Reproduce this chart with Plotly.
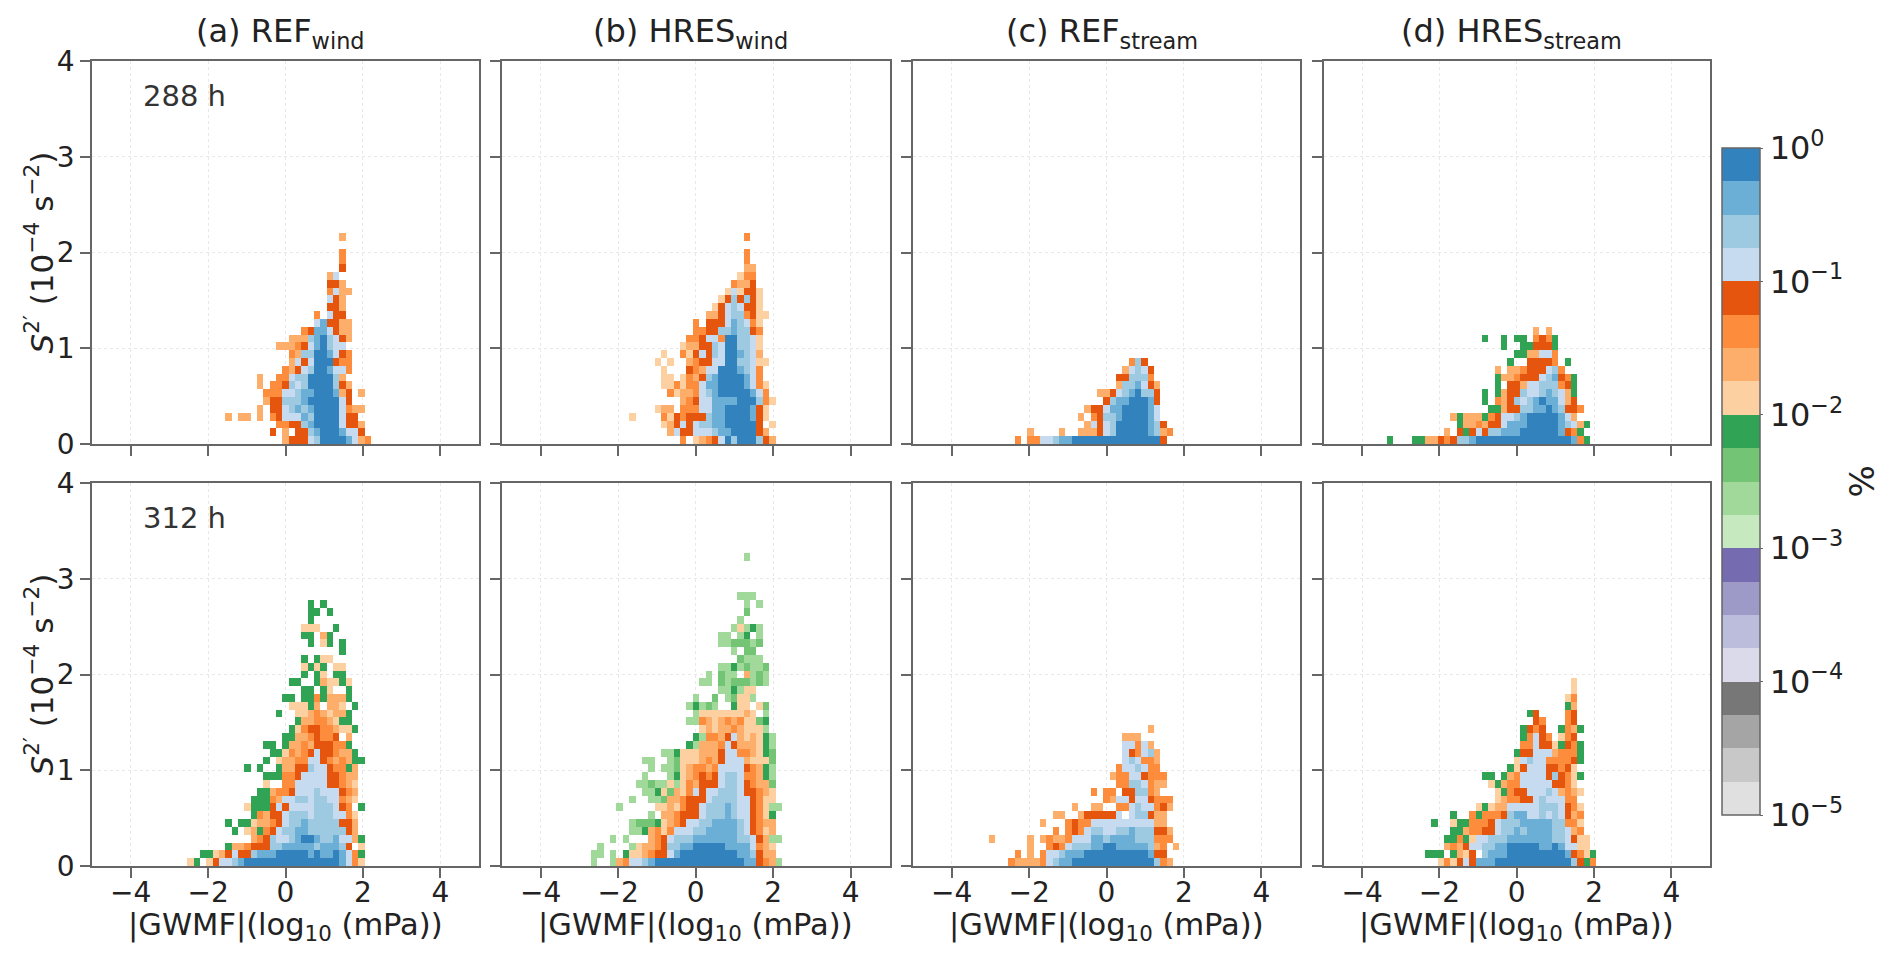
import plotly.graph_objects as go

W, H = 1892, 963

# Each panel: rows from S2'=0 upward, as (first column index, class letters). "." = empty bin.
# Column 0 is the bin centred on log10|GWMF| = 0. Letters a..t are the colour classes, from 10^0 downward.
REF_WIND_288 = [
    (0, "geeedcaaaabdgf"), (-2, "e.g.eecbaaabdde"), (-1, "ffeecbaaaadeeg"),
    (-9, "g.gg.g.fedddbcaaaadee"), (-4, "g.eedcbcbaaaadfgg"), (-3, "geecccbaaaaade"),
    (-3, "fffddcbbaaabge.g"), (-4, "g.ffecdcaaaaceg"), (-4, "g..ffdccaaaacg"),
    (0, "fgedcaabddf"), (1, "gdedaaaeff"), (1, "fgccaabdef"), (-1, "gggfedbacdd"),
    (1, "gggcbacdeg"), (3, "febbdegg"), (5, "dbeegg"), (5, "f.dee"), (7, "eeg"),
    (7, "deg"), (7, "fdgg"), (7, "eeg"), (7, "gd"), (9, "e"), (9, "f"), (9, "f"),
    (0, ""), (9, "g"),
]
HRES_WIND_288 = [
    (-2, "f.hgfedacaaaceg"), (-4, "gdeedddcbbaaaaeg"), (-5, "hgededccbbaaaaae.h"),
    (-10, "h....fhefeeecbbaaaabeh"), (-6, "hgg.fffddbbaaaabeh"), (-2, "gfeddbbbbaaacfh"),
    (-4, "fhggfdcbaaaaabdf"), (-5, "hhfhffdbbaaaabdfh"), (-5, "hh.hfgecbaaaabdf"),
    (-5, "h...efgddaaabcdf"), (-6, "h.h..gfeeddaaccdhh"), (-5, "h..fhedecdaabcdg"),
    (-2, "hggeecdaaccdh"), (-1, "ffeddfaaccdh"), (0, "ffeeccbccef"), (0, "f.eeedbcdfh"),
    (2, "ggedccfehh"), (3, "hedcdeeh"), (4, "hececeh"), (5, "hdheeh"), (6, "fgge"),
    (7, "hff"), (8, "gg"), (8, "f"), (8, "f"), (0, ""), (8, "f"),
]
REF_STREAM_288 = [
    (-14, "f.ffddcbb" "aaaaa" "aaaaa" "aaaa" "e"),
    (-12, "g....g..gggedc" "aaaaa" "bcgf"),
    (-3, "gdedcaaaaabce"), (-4, "g.feccbaaaabd"), (-3, "geedbbaaaabd"),
    (0, "ecbbaaabe"), (-1, "ggedcbacce"), (2, "gccbdeg"), (2, "eecccf"),
    (3, "gdcde"), (4, "fce"),
]
HRES_STREAM_288 = [
    (-20, "i...iiggefeccb" "aaaaa" "aaaaa" "aaaaa" "bfi"),
    (-11, "g.eiedeccbbb" "aaaaaa" "befi"),
    (-9, "iggfgeedbbb" "aaaaa" "bcdgi"),
    (-10, "gigggifeddcb" "aaaaa" "bdg"),
    (-4, "iigeeccbbabceef"), (-5, "i.fgecdcbabbdge"), (-5, "i.igeecddcbcdgi"),
    (-3, "i.eegddcccfei"), (-3, "iggfeeedcbefi"), (-3, "g.ggfeeedcf"),
    (-1, "i..eeeef.i"), (0, "iiggddf"), (-2, "i..iieeei"), (-5, "i..i.ii.fefi"),
    (3, "g.g"),
]
REF_WIND_312 = [
    (-15, "hi.heddcb" "aaaaa" "aaaaa" "aaaaa" "bdfh"),
    (-13, "iihgedeecbbb" "aaaaa" "bab" "b" "abdfi"),
    (-9, "iggfeeecc" "bbbbb" "cbbb" "ce.h"),
    (-5, "gfecddcbaabccbddgi"), (-8, "i.hgifedccbbcccccceg"),
    (-9, "i.iihggfedccb" "ccccc" "eeg"),
    (-5, "ifgeedcccdcccddfh"), (-6, "hiiiededdddcccdef.i"), (-5, "iiifgddccdccddfgh"),
    (-4, "iigffedddcdddefg"), (-3, "h..ffddddd" "eefgh"), (-3, "iiiffe" "dddd" "eefgg"),
    (-6, "i.i..iggeecddeffig"), (-3, "i.hggffddefgfgii"), (-2, "iihfgfedeefggi"),
    (-3, "ii.iggfgeeeffi"), (0, "iiggfeffe.g"), (1, "ihfeeffghhi"), (2, "iggffghii"),
    (-1, "i..hhgfghggi"), (1, "hhhig.ggh.i"), (0, "ii.iifigggi"), (3, "ii.ih..i"),
    (1, "ii..ighhih"), (3, "i.ih.ii"), (3, "hihi.hh"), (3, "i.ihh"), (9, "i"),
    (4, "i.hi.i"), (3, "ii.gi"), (3, "hhh..i"), (4, "i"), (4, "ii.i"), (4, "i.i"),
]
HRES_WIND_312 = [
    (-16, "k..kgfddcb" "aaaaa" "aaaaa" "aaaa" "bbefgk"),
    (-16, "kk.k.ihhgfeedb" "aaaaa" "aaaa" "bbcegg"),
    (-15, "k....khggfe" "cc" "bb" "aaaaa" "bbbb" "dfgh"),
    (-13, "k.k...gfedccc" "bbbbbbb" "ccdegkk"),
    (-10, "kkigfhf" "ddd" "cc" "bbbbb" "cdefhg"),
    (-10, "kjjjihgfedd" "cc" "bbbb" "cdefgg"),
    (-7, "k.ggfeeedcccbcddefhi"),
    (-12, "k.....hhghfeedcccbcddefhkk"),
    (-10, "k..kkjggfeee" "d" "cccc" "dd" "efhh"),
    (-8, "kkihjghfdedd" "ccc" "deefgh"),
    (-9, "kkjkkhkhfgeeedccdefggj"),
    (-8, "k...kihgfefedccdffgik"),
    (-7, "k.kkjhgffgfddddefgik"),
    (-8, "kk..kjhhhgfgedddghhhj"),
    (-5, "kkihhhgggeddffghij"),
    (-1, "ikgggfdeggghik"),
    (0, "ikffgedghghik"),
    (1, "hghggfghhhk"),
    (-1, "kkfghgfgfhhji"),
    (0, "khhhhhhhgh.k"),
    (-1, "kikjk..ihh.hj"),
    (0, "k..j.kjhhk"),
    (4, "kkikhh"),
    (1, "kk.jkjjjkjk"),
    (2, "k.jkk.gkjk"),
    (4, "kkikjkkj"),
    (7, "jkkk"),
    (6, "k.jj"),
    (4, "kkjjjkj"),
    (4, "kk.ki.k"),
    (6, "khkik"),
    (7, "k"),
    (8, "j"),
    (8, "k.k"),
    (7, "kkk"),
    (0, ""), (0, ""), (0, ""), (0, ""),
    (8, "k"),
]
REF_STREAM_312 = [
    (-15, "fggggfdcbb" "aaaaa" "aaaaa" "aaa" "cfg"),
    (-14, "f.g.fddcbbb" "aaaaa" "aaaaa" "bee"),
    (-12, "g..fefdcccbbaabbbbbcgf.g"),
    (-18, "g.....g.gfggfdddbbcbbbbcccfff"),
    (-8, "f.fefdccddccbccceeg"),
    (-10, "g...feff" "ddddd" "ddddd" "gg"),
    (-8, "gg..geeeee" "d.d" "cc" "egg"),
    (-5, "g..gg..ffdcddfeg"),
    (0, "fgddeddefff"),
    (-2, "f.ff.eeccfg"),
    (2, "ffccdfgg"),
    (1, "gffddefff"),
    (2, "fddcdff"),
    (3, "dcdffg"),
    (3, "defdcg"),
    (3, "ddfdg"),
    (3, "ggg"),
    (7, "g"),
]
HRES_STREAM_312 = [
    (-12, "hfhedebbb" "aaaaa" "aaaaa" "aa" "ceif"),
    (-14, "iii.ighe.cbbb" "aaaaa" "aaaa" "befhi"),
    (-11, "gfgeddccbb" "aaaaa" "bbabddhh"),
    (-11, "iifihddcccbb" "bbbbb" "ccdehh"),
    (-10, "iigffeedcc" "bc" "bbbb" "ccdgf"),
    (-13, "i..hiifffedccc" "bbbbb" "ccffh"),
    (-10, "i..fifffecbbddcdcdegf"),
    (-6, "hihgg" "ddddd" "cccd" "efh"),
    (-3, "hgffeedcdddff"),
    (-3, "hifeedddcdgfgh"),
    (-4, "higffdddddeefh"),
    (-5, "ii.igf" "dddd" "ecefhi"),
    (-1, "iheddd" "eefeh"),
    (0, "hdcddffffei"),
    (0, "ieedddgfffi"),
    (1, "ffdeehiefi"),
    (1, "ifdef.hfe"),
    (1, "iefe..ifgi"),
    (3, "ef...fe"),
    (2, "ie....fe"),
    (8, "ig"),
    (8, "hf"),
    (9, "h"),
    (9, "h"),
]

CLASS_LETTERS = "abcdefghijklmnopqrst"
CLASS_COLORS = ["#3182bd", "#6baed6", "#9ecae1", "#c6dbef",
                "#e6550d", "#fd8d3c", "#fdae6b", "#fdd0a2",
                "#31a354", "#74c476", "#a1d99b", "#c7e9c0",
                "#756bb1", "#9e9ac8", "#bcbddc", "#dadaeb",
                "#777777", "#a5a5a5", "#c8c8c8", "#e0e0e0"]
TITLES = ["(a) REF<sub>wind</sub>", "(b) HRES<sub>wind</sub>",
          "(c) REF<sub>stream</sub>", "(d) HRES<sub>stream</sub>"]
ROW_LABELS = ["288 h", "312 h"]
PANELS = [[REF_WIND_288, HRES_WIND_288, REF_STREAM_288, HRES_STREAM_288],
          [REF_WIND_312, HRES_WIND_312, REF_STREAM_312, HRES_STREAM_312]]
XTICKS = [-4, -2, 0, 2, 4]
YTICKS = [0, 1, 2, 3, 4]
CBAR_EXPONENTS = [0, -1, -2, -3, -4, -5]
NX, NY = 61, 49

FONT = "DejaVu Sans"
COL_PX = [(92, 479), (502, 889.5), (913, 1300), (1323.5, 1710)]
ROW_PX = [(61, 444), (483, 866)]
CBAR_PX = (1722, 1760, 148, 815)
TICK_FS = 28
AXC = "#666666"


def px(x):
    return x / W


def py(y):
    return 1 - y / H


def grid(rows):
    half = NX // 2
    z = [[None] * NX for _ in range(NY)]
    for j, (start, codes) in enumerate(rows):
        for n, ch in enumerate(codes):
            if ch != ".":
                z[j][start + n + half] = -(CLASS_LETTERS.index(ch) + 0.5) / 4
    return z


xc = [(k - NX // 2) * 10 / NX for k in range(NX)]
yc = [(j + 0.5) * 4 / NY for j in range(NY)]

scale = []
for i, c in enumerate(reversed(CLASS_COLORS)):
    scale += [[i / 20, c], [(i + 1) / 20, c]]

fig = go.Figure()
ann = []
for r, (y0, y1) in enumerate(ROW_PX):
    for c, (x0, x1) in enumerate(COL_PX):
        n = r * 4 + c + 1
        sfx = "" if n == 1 else str(n)
        fig.add_trace(go.Heatmap(x=xc, y=yc, z=grid(PANELS[r][c]), coloraxis="coloraxis",
                                 xaxis="x" + sfx, yaxis="y" + sfx, hoverongaps=False))
        common = dict(showline=True, mirror=True, linecolor=AXC, linewidth=1.5, ticks="outside",
                      ticklen=10, tickwidth=1.5, tickcolor=AXC, showgrid=True, gridcolor="#e8e8e8",
                      griddash="dot", gridwidth=1, zeroline=False,
                      tickfont=dict(family=FONT, size=TICK_FS, color="#222222"))
        fig.layout["xaxis" + sfx] = dict(common, domain=[px(x0), px(x1)], range=[-5, 5],
                                         anchor="y" + sfx, tickmode="array", tickvals=XTICKS,
                                         showticklabels=r == 1, ticklabelstandoff=-9)
        fig.layout["yaxis" + sfx] = dict(common, domain=[py(y1), py(y0)], range=[0, 4],
                                         anchor="x" + sfx, tickmode="array", tickvals=YTICKS,
                                         showticklabels=c == 0)


def text(x, y, s, size=30, color="#222222", angle=0, xanchor="center"):
    ann.append(dict(xref="paper", yref="paper", x=px(x), y=py(y), text=s, showarrow=False,
                    textangle=angle, xanchor=xanchor, yanchor="middle",
                    font=dict(family=FONT, size=size, color=color)))


for c, (x0, x1) in enumerate(COL_PX):
    text((x0 + x1) / 2 - 5, 33, TITLES[c], size=32)
    text((x0 + x1) / 2, 926, "|GWMF|(log<sub>10</sub> (mPa))", size=30.5)
for r, (y0, y1) in enumerate(ROW_PX):
    text(39, (y0 + y1) / 2, "<i>S</i><sup>2′</sup> (10<sup>−4</sup> s<sup>−2</sup>)", size=31, angle=-90)
    text(141, y0 + 35, ROW_LABELS[r], size=29, color="#333333", xanchor="left")
text(1861, (CBAR_PX[2] + CBAR_PX[3]) / 2, "%", size=34, angle=-90)

cx0, cx1, cy0, cy1 = CBAR_PX
fig.update_layout(
    width=W, height=H, margin=dict(l=0, r=0, t=0, b=0, autoexpand=False), paper_bgcolor="white",
    plot_bgcolor="white", font=dict(family=FONT), annotations=ann, showlegend=False,
    coloraxis=dict(
        cmin=-5, cmax=0, colorscale=scale,
        colorbar=dict(
            x=px(cx0), xanchor="left", xpad=0, ypad=0,
            y=py(cy1), yanchor="bottom", lenmode="pixels", len=cy1 - cy0,
            thicknessmode="pixels", thickness=cx1 - cx0,
            outlinewidth=1.5, outlinecolor=AXC,
            ticks="outside", ticklen=3, tickwidth=1, tickcolor=AXC,
            tickmode="array", tickvals=CBAR_EXPONENTS,
            ticktext=["10<sup>%s</sup>" % str(e).replace("-", "−") for e in CBAR_EXPONENTS],
            tickfont=dict(family=FONT, size=32, color="#222222"),
        ),
    ),
    xaxis99=dict(domain=[px(cx0), px(cx1)], anchor="y99", showline=False, showgrid=False,
                 zeroline=False, showticklabels=False, ticks="", range=[0, 1]),
    yaxis99=dict(domain=[py(cy1), py(cy0)], anchor="x99", side="right", type="log", range=[-5, 0],
                 showline=False, showgrid=False, zeroline=False, showticklabels=False,
                 ticks="outside", ticklen=6, tickwidth=1, tickcolor=AXC,
                 dtick=1, minor=dict(ticks="outside", ticklen=3, tickwidth=1, tickcolor=AXC,
                                     showgrid=False)),
)

fig.write_html("out.html", config=dict(displayModeBar=False),
               post_script="document.body.style.margin='0';")
